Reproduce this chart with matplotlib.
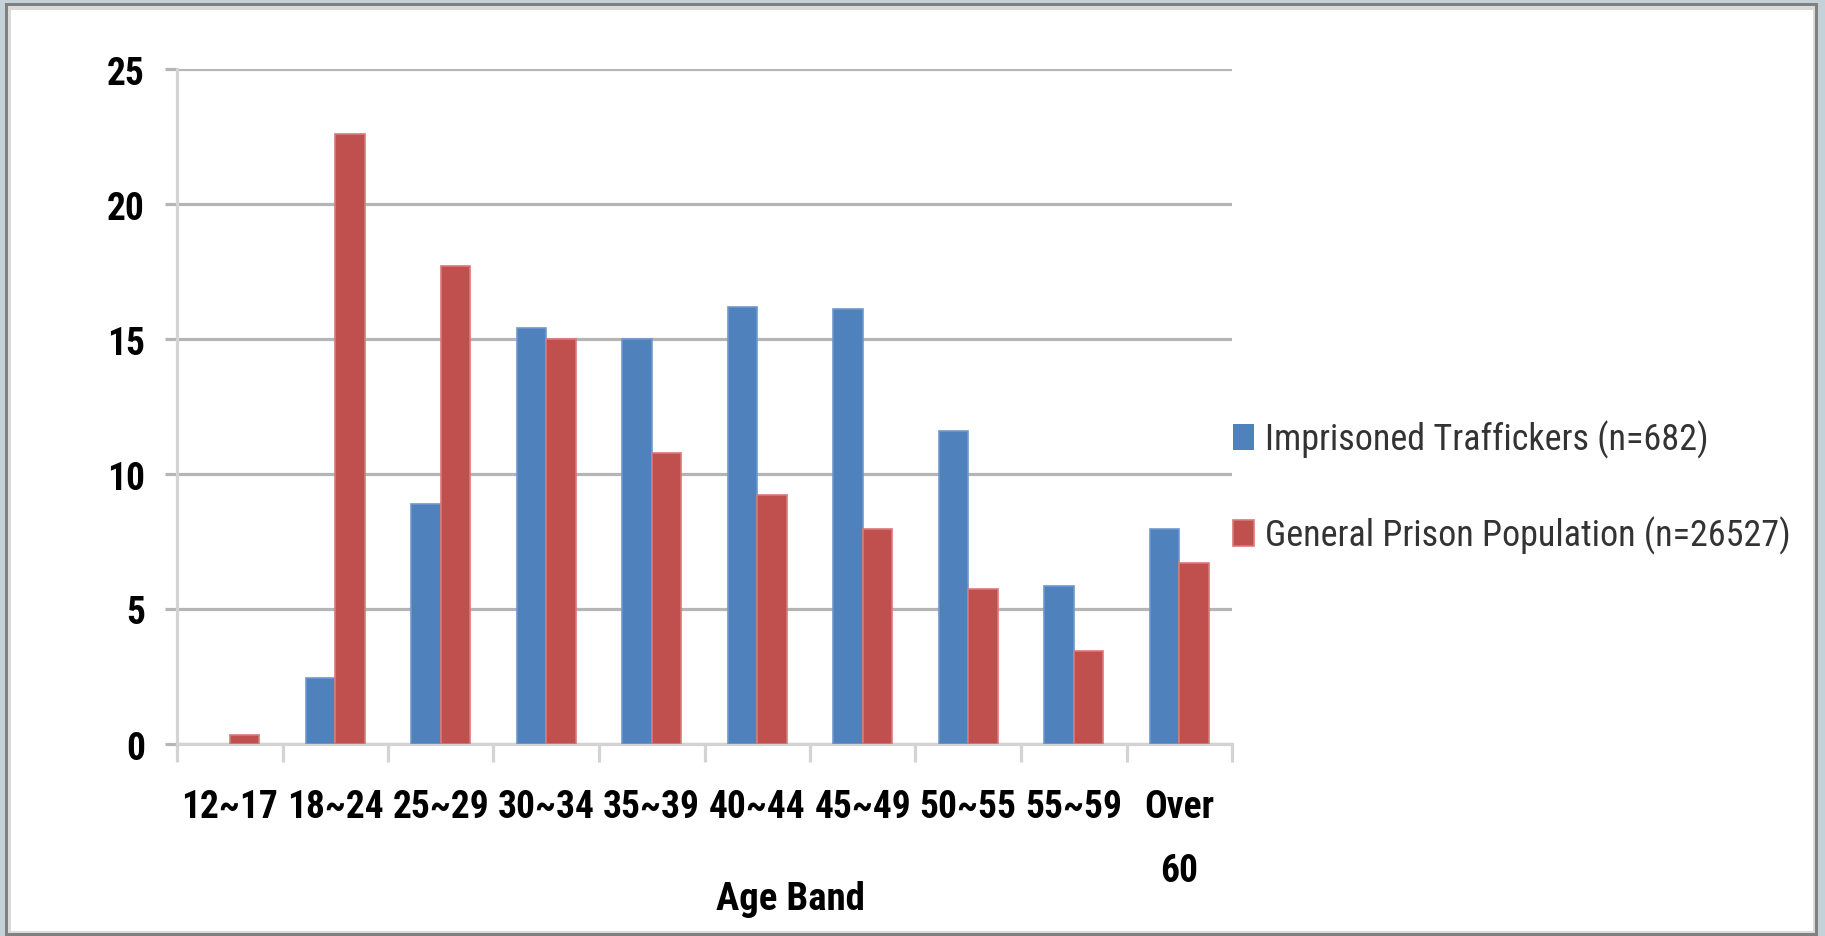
import numpy as np
import matplotlib
matplotlib.use("Agg")
import matplotlib.pyplot as plt
from matplotlib.patches import Rectangle

# Dados
faixas = ["12~17", "18~24", "25~29", "30~34", "35~39",
          "40~44", "45~49", "50~55", "55~59", "Over\n60"]
traficantes = [0.0, 2.45, 8.9, 15.4, 15.0, 16.2, 16.1, 11.6, 5.85, 7.95]
populacao_geral = [0.35, 22.6, 17.7, 15.0, 10.77, 9.23, 7.95, 5.75, 3.45, 6.7]
rotulo_traf = "Imprisoned Traffickers (n=682)"
rotulo_geral = "General Prison Population (n=26527)"
yticks = [0, 5, 10, 15, 20, 25]

AZUL = "#4F81BD"
VERMELHO = "#C0504D"
GRADE = "#B5B5B5"
EIXO = "#D3D3D3"
FONTE = ["Roboto Condensed", "Roboto", "DejaVu Sans"]

fig = plt.figure(figsize=(18.25, 9.37), dpi=100)
fig.patch.set_facecolor("white")

# Moldura externa (fundo azulado + linha cinza escura + linha cinza clara)
W, H = 1825.0, 937.0
def ret(x0, y0, x1, y1, cor):
    fig.patches.append(Rectangle((x0 / W, 1 - y1 / H), (x1 - x0) / W, (y1 - y0) / H,
                                 transform=fig.transFigure, facecolor=cor,
                                 edgecolor="none", zorder=-5))

ret(0, 0, W, H, "#C5D1D8")
ret(5, 4, 1818, H, "#808080")
ret(8, 7, 1815, 934, "#DADADA")
ret(11, 11, 1813, 932, "white")

ax = fig.add_axes([177 / W, 1 - 745 / H, (1232 - 177) / W, (745 - 70) / H])
ax.set_facecolor("none")

x = np.arange(len(faixas))
largura = 0.28
# barras de altura zero ficam sem contorno
esp_traf = [0 if v == 0 else 1.2 for v in traficantes]
esp_geral = [0 if v == 0 else 1.2 for v in populacao_geral]
ax.bar(x - largura / 2, traficantes, largura, color=AZUL,
       edgecolor="#6E98CC", linewidth=esp_traf, label=rotulo_traf, zorder=3)
ax.bar(x + largura / 2, populacao_geral, largura, color=VERMELHO,
       edgecolor="#D77A78", linewidth=esp_geral, label=rotulo_geral, zorder=3)

ax.set_xlim(-0.5, len(faixas) - 0.5)
ax.set_ylim(0, 25)
ax.set_yticks(yticks)
ax.set_yticklabels([str(v) for v in yticks])
ax.yaxis.grid(True, color=GRADE, linewidth=2.3, zorder=0)
ax.set_axisbelow(True)

for lado in ["top", "right"]:
    ax.spines[lado].set_visible(False)
for lado in ["left", "bottom"]:
    ax.spines[lado].set_color(EIXO)
    ax.spines[lado].set_linewidth(2.3)
    ax.spines[lado].set_zorder(2)

ax.tick_params(axis="y", length=9, width=2.3, color=GRADE, pad=14)
ax.set_xticks(x)
ax.set_xticklabels(faixas, linespacing=1.9)
ax.set_xticks(np.arange(len(faixas) + 1) - 0.5, minor=True)
ax.tick_params(axis="x", which="major", length=0, pad=32)
ax.tick_params(axis="x", which="minor", length=13, width=2.3, color=EIXO)

for rot in ax.get_yticklabels():
    rot.set_fontfamily(FONTE)
    rot.set_fontweight("bold")
    rot.set_fontsize(27)
for rot in ax.get_xticklabels():
    rot.set_fontfamily(FONTE)
    rot.set_fontweight("bold")
    rot.set_fontsize(27)
    rot.set_verticalalignment("top")

fig.text(790 / W, 1 - 900 / H, "Age Band", ha="center", va="center",
         fontsize=28, fontweight="bold", family=FONTE)

leg = fig.legend(loc="center left", bbox_to_anchor=(1233 / W, 1 - 488 / H),
                 frameon=False, borderpad=0, borderaxespad=0,
                 handlelength=0.58, handleheight=0.75, handletextpad=0.3,
                 labelspacing=1.6, prop={"family": FONTE, "size": 26})
for t in leg.get_texts():
    t.set_color("#333333")

fig.savefig("out.png", dpi=100)
